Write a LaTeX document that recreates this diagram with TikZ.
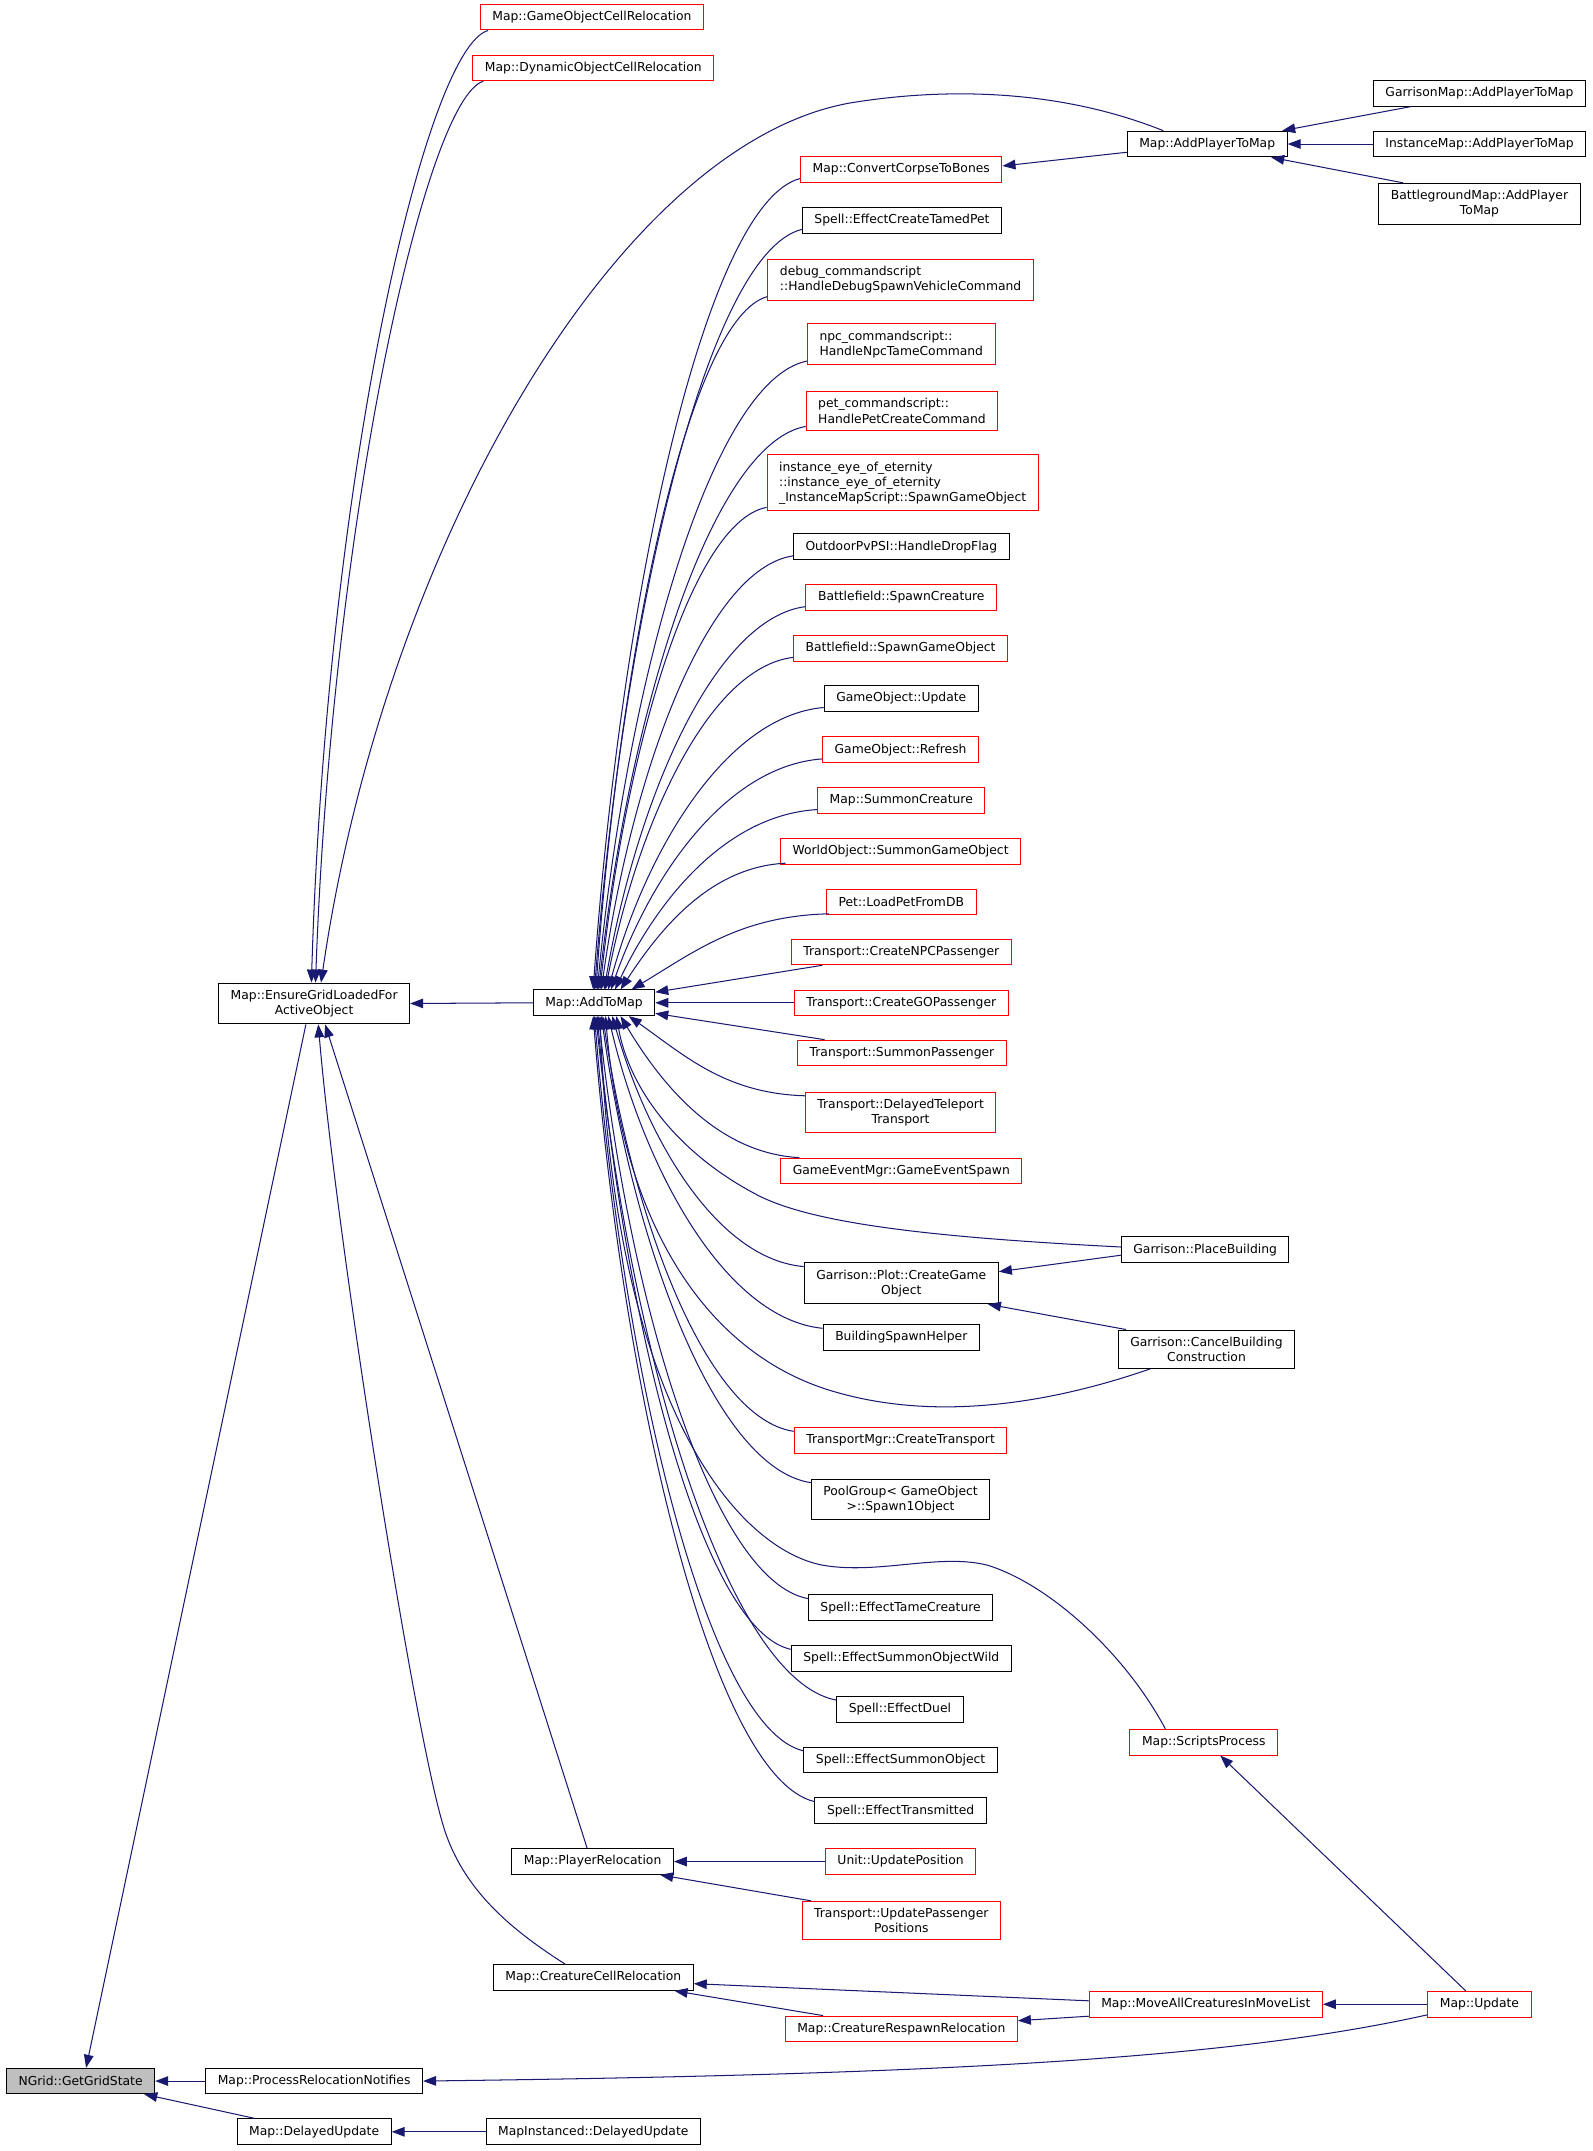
\documentclass[tikz,border=0pt]{standalone}
\usepackage{fontspec}
\setmainfont{DejaVu Sans}
\usetikzlibrary{arrows.meta,calc}
\definecolor{edgeblue}{HTML}{191970}
\definecolor{boxred}{HTML}{FF0000}
\definecolor{boxgray}{HTML}{BFBFBF}
\newcommand\fancurve[2]{\draw[callline] let \p1=(#1), \p2=(#2), \n1={0.12+0.2*min(1,60/abs(\y2-\y1))} in (\p1) .. controls ({\x1+0.45*(\x2-\x1)},{\y1+0.03*(\y2-\y1)}) and ({\x2+\n1*(\x1-\x2)},{\y2+0.5*(\y1-\y2)}) .. (\p2);}
\tikzset{
  box/.style={rectangle, line width=0.73pt, font=\fontsize{9}{11}\selectfont, inner xsep=8.8pt, inner ysep=5pt, minimum height=18.5pt, align=center, fill=white},
  bk/.style={box, draw=black},
  rd/.style={box, draw=boxred},
  callline/.style={draw=edgeblue, line width=0.75pt, -{Triangle[length=9.5pt,width=7pt]}},
}
\begin{document}
\begin{tikzpicture}[x=1pt,y=1pt]
\useasboundingbox (0,0) rectangle (1161,-1568);
% left
\node[bk, fill=boxgray] (getgrid) at (58.75,-1517) {NGrid::GetGridState};
\node[bk] (ensure) at (229,-731.5) {Map::EnsureGridLoadedFor\\ActiveObject};
\node[bk] (procrel) at (229,-1517) {Map::ProcessRelocationNotifies};
\node[bk] (delayed) at (229,-1554) {Map::DelayedUpdate};
\node[rd] (gocell) at (431.5,-12.5) {Map::GameObjectCellRelocation};
\node[rd] (dyncell) at (432.5,-49.5) {Map::DynamicObjectCellRelocation};
\node[bk] (atm) at (433,-731) {Map::AddToMap};
\node[bk] (playerrel) at (432,-1357) {Map::PlayerRelocation};
\node[bk] (creaturecell) at (432.5,-1441.5) {Map::CreatureCellRelocation};
\node[bk] (mapinst) at (432.5,-1554) {MapInstanced::DelayedUpdate};
% middle
\node[rd] (convert) at (657,-123.5) {Map::ConvertCorpseToBones};
\node[bk] (tamedpet) at (657.5,-160.5) {Spell::EffectCreateTamedPet};
\node[rd, align=left] (debugcmd) at (656.5,-204) {debug\_commandscript\\::HandleDebugSpawnVehicleCommand};
\node[rd, align=left] (npccmd) at (657,-251) {npc\_commandscript::\\HandleNpcTameCommand};
\node[rd, align=left] (petcmd) at (657.5,-299.5) {pet\_commandscript::\\HandlePetCreateCommand};
\node[rd, align=left] (eye) at (658,-352) {instance\_eye\_of\_eternity\\::instance\_eye\_of\_eternity\\\_InstanceMapScript::SpawnGameObject};
\node[bk] (outdoor) at (657,-398.5) {OutdoorPvPSI::HandleDropFlag};
\node[rd] (bfcreature) at (657,-435.5) {Battlefield::SpawnCreature};
\node[rd] (bfgo) at (656.5,-472.5) {Battlefield::SpawnGameObject};
\node[bk] (goupdate) at (657,-509) {GameObject::Update};
\node[rd] (gorefresh) at (656.5,-546.5) {GameObject::Refresh};
\node[rd] (summoncr) at (657,-583.5) {Map::SummonCreature};
\node[rd] (worldobj) at (656.5,-620.5) {WorldObject::SummonGameObject};
\node[rd] (petload) at (657,-657.5) {Pet::LoadPetFromDB};
\node[rd] (npcpass) at (657,-694) {Transport::CreateNPCPassenger};
\node[rd] (gopass) at (657,-731) {Transport::CreateGOPassenger};
\node[rd] (summonpass) at (657.5,-767.5) {Transport::SummonPassenger};
\node[rd] (delayedtp) at (656.5,-811) {Transport::DelayedTeleport\\Transport};
\node[rd] (gameevent) at (657,-853.5) {GameEventMgr::GameEventSpawn};
\node[bk] (plotcreate) at (657,-935.5) {Garrison::Plot::CreateGame\\Object};
\node[bk] (bsh) at (657,-975) {BuildingSpawnHelper};
\node[rd] (createtransport) at (656.5,-1050) {TransportMgr::CreateTransport};
\node[bk] (poolgroup) at (656.5,-1093) {PoolGroup< GameObject\\>::Spawn1Object};
\node[bk] (tamecreature) at (656.5,-1172) {Spell::EffectTameCreature};
\node[bk] (summonwild) at (657,-1209) {Spell::EffectSummonObjectWild};
\node[bk] (duel) at (656,-1246) {Spell::EffectDuel};
\node[bk] (summonobj) at (656.5,-1283) {Spell::EffectSummonObject};
\node[bk] (transmitted) at (656.5,-1320) {Spell::EffectTransmitted};
\node[rd] (unitupdate) at (656.5,-1357) {Unit::UpdatePosition};
\node[rd] (updatepass) at (657,-1400) {Transport::UpdatePassenger\\Positions};
\node[rd] (respawn) at (657,-1479) {Map::CreatureRespawnRelocation};
% right
\node[bk] (addplayer) at (880,-105) {Map::AddPlayerToMap};
\node[bk] (garrisonmap) at (1078.5,-68) {GarrisonMap::AddPlayerToMap};
\node[bk] (instancemap) at (1078.5,-105) {InstanceMap::AddPlayerToMap};
\node[bk] (bgmap) at (1078.5,-148.5) {BattlegroundMap::AddPlayer\\ToMap};
\node[bk] (placebuilding) at (878.5,-911) {Garrison::PlaceBuilding};
\node[bk] (cancelbuilding) at (879.5,-983.5) {Garrison::CancelBuilding\\Construction};
\node[rd] (scriptsprocess) at (877.5,-1270) {Map::ScriptsProcess};
\node[rd] (moveall) at (879,-1461) {Map::MoveAllCreaturesInMoveList};
\node[rd] (mapupdate) at (1078.5,-1461) {Map::Update};

% edges into GetGridState
\draw[callline] ([xshift=-6pt]ensure.south) -- ([xshift=4pt]getgrid.north);
\draw[callline] (procrel.west) -- (getgrid.east);
\draw[callline] ([xshift=-43pt]delayed.north) -- ([xshift=-8pt]getgrid.south east);
\draw[callline] (mapinst.west) -- (delayed.east);
\draw[callline] ([yshift=2pt]mapupdate.south west) .. controls (900,-1500) and (700,-1512) .. (procrel.east);

% edges into EnsureGridLoadedForActiveObject
\draw[callline] ([xshift=6pt]gocell.south west) .. controls (310,-35) and (238,-350) .. ([xshift=-2pt]ensure.north);
\draw[callline] ([xshift=8pt]dyncell.south west) .. controls (310,-72) and (242,-380) .. ([xshift=1pt]ensure.north);
\draw[callline] ([xshift=-32pt]addplayer.north) .. controls (780,-68) and (700,-62) .. (620,-75) .. controls (450,-105) and (280,-400) .. ([xshift=5pt]ensure.north);
\draw[callline] (atm.west) -- (ensure.east);
\draw[callline] ([xshift=-4pt]playerrel.north) -- ([xshift=8pt]ensure.south);
\draw[callline] ([xshift=-20.5pt]creaturecell.north) .. controls (370,-1405) and (335,-1375) .. (322,-1327) .. controls (300,-1250) and (245,-900) .. ([xshift=3pt]ensure.south);

% edges into AddPlayerToMap and ConvertCorpseToBones
\draw[callline] ([yshift=-6pt]addplayer.west) -- ([yshift=2.5pt]convert.east);
\draw[callline] ([xshift=-50pt]garrisonmap.south) -- ([xshift=-4pt]addplayer.north east);
\draw[callline] (instancemap.west) -- (addplayer.east);
\draw[callline] ([xshift=18pt]bgmap.north west) -- ([xshift=-12pt]addplayer.south east);

% upper fan into AddToMap
\fancurve{[yshift=3pt]convert.south west}{[xshift=44pt]atm.north west}
\fancurve{[yshift=3pt]tamedpet.south west}{[xshift=45pt]atm.north west}
\fancurve{[yshift=3pt]debugcmd.south west}{[xshift=46pt]atm.north west}
\fancurve{[yshift=3pt]npccmd.south west}{[xshift=47pt]atm.north west}
\fancurve{[yshift=3pt]petcmd.south west}{[xshift=48pt]atm.north west}
\fancurve{[yshift=3pt]eye.south west}{[xshift=49pt]atm.north west}
\fancurve{[yshift=3pt]outdoor.south west}{[xshift=50pt]atm.north west}
\fancurve{[yshift=3pt]bfcreature.south west}{[xshift=52pt]atm.north west}
\fancurve{[yshift=3pt]bfgo.south west}{[xshift=53pt]atm.north west}
\fancurve{[yshift=3pt]goupdate.south west}{[xshift=55pt]atm.north west}
\fancurve{[yshift=3pt]gorefresh.south west}{[xshift=57pt]atm.north west}
\fancurve{[yshift=3pt]summoncr.south west}{[xshift=60pt]atm.north west}
\fancurve{[xshift=4pt,yshift=1pt]worldobj.south west}{[xshift=64pt]atm.north west}
\fancurve{[xshift=2pt,yshift=1pt]petload.south west}{[xshift=72pt]atm.north west}
\draw[callline] ([xshift=23pt]npcpass.south west) -- ([yshift=-2pt]atm.north east);
\draw[callline] (gopass.west) -- (atm.east);
\draw[callline] ([xshift=20pt]summonpass.north west) -- ([yshift=2pt]atm.south east);

% lower fan into AddToMap
\fancurve{[yshift=-3pt]delayedtp.north west}{[xshift=70pt]atm.south west}
\fancurve{[xshift=14pt]gameevent.north west}{[xshift=64pt]atm.south west}
\fancurve{[yshift=-3pt]plotcreate.north west}{[xshift=58pt]atm.south west}
\fancurve{[yshift=-3pt]bsh.north west}{[xshift=55pt]atm.south west}
\fancurve{[yshift=-3pt]createtransport.north west}{[xshift=51pt]atm.south west}
\fancurve{[yshift=-3pt]poolgroup.north west}{[xshift=50pt]atm.south west}
\fancurve{[yshift=-3pt]tamecreature.north west}{[xshift=48pt]atm.south west}
\fancurve{[yshift=-3pt]summonwild.north west}{[xshift=47pt]atm.south west}
\fancurve{[yshift=-3pt]duel.north west}{[xshift=46pt]atm.south west}
\fancurve{[yshift=-3pt]summonobj.north west}{[xshift=45pt]atm.south west}
\fancurve{[yshift=-3pt]transmitted.north west}{[xshift=44pt]atm.south west}
\draw[callline] ([yshift=2pt]placebuilding.west) .. controls (680,-902) and (590,-892) .. (550,-870) .. controls (490,-838) and (458,-790) .. ([xshift=61pt]atm.south west);
\draw[callline] ([xshift=-41pt]cancelbuilding.south) .. controls (760,-1025) and (680,-1035) .. (610,-1015) .. controls (520,-990) and (455,-900) .. ([xshift=53pt]atm.south west);
\draw[callline] ([xshift=-28pt]scriptsprocess.north) .. controls (820,-1205) and (765,-1155) .. (720,-1141) .. controls (685,-1132) and (640,-1148) .. (600,-1141) .. controls (540,-1130) and (448,-1030) .. ([xshift=49pt]atm.south west);

% Garrison::Plot::CreateGameObject
\draw[callline] ([yshift=-4pt]placebuilding.west) -- ([yshift=8.5pt]plotcreate.east);
\draw[callline] ([xshift=6pt]cancelbuilding.north west) -- ([xshift=-8pt]plotcreate.south east);

% PlayerRelocation
\draw[callline] (unitupdate.west) -- (playerrel.east);
\draw[callline] ([xshift=7pt]updatepass.north west) -- ([xshift=-10pt]playerrel.south east);

% CreatureCellRelocation
\draw[callline] ([yshift=2.5pt]moveall.west) -- ([yshift=-4.5pt]creaturecell.east);
\draw[callline] ([xshift=28pt]respawn.north west) -- ([xshift=-14pt]creaturecell.south east);
\draw[callline] ([yshift=1pt]moveall.south west) -- ([yshift=6pt]respawn.east);
\draw[callline] (mapupdate.west) -- (moveall.east);
\draw[callline] ([xshift=-10pt]mapupdate.north) -- ([xshift=12pt]scriptsprocess.south);
\end{tikzpicture}
\end{document}
